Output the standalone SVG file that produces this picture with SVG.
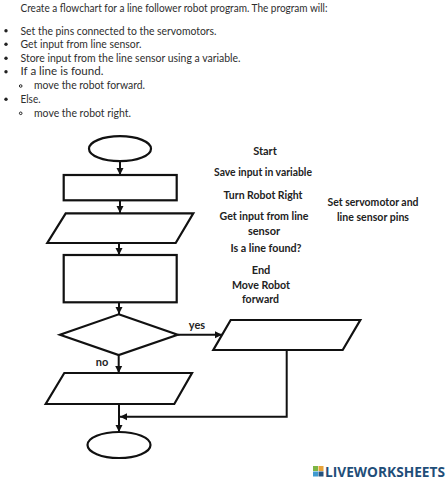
<svg xmlns="http://www.w3.org/2000/svg" width="448" height="480" viewBox="0 0 448 480">
<style>
text{font-family:"Lato","Liberation Sans",sans-serif}
.b{font-size:11.5px;fill:#2e2e2e}
.l{font-size:11px;font-weight:700;fill:#222;text-anchor:middle}
.s{fill:#fff;stroke:#111;stroke-width:2.2}
.c{fill:none;stroke:#111;stroke-width:2}
</style>
<defs>
<marker id="a" markerUnits="userSpaceOnUse" markerWidth="8" markerHeight="8" refX="7" refY="4" orient="auto"><path d="M0 0.5L7 4L0 7.5Z" fill="#111"/></marker>
</defs>
<rect width="448" height="480" fill="#fff"/>
<g id="instructions">
<text class="b" x="20.500" y="12" textLength="307" lengthAdjust="spacingAndGlyphs">Create a flowchart for a line follower robot program. The program will:</text>
<g fill="#222"><circle cx="6" cy="30.700" r="1.700"/><circle cx="6" cy="44.300" r="1.700"/><circle cx="6" cy="58.300" r="1.700"/><circle cx="6" cy="71.700" r="1.700"/><circle cx="6" cy="99.300" r="1.700"/></g>
<g fill="none" stroke="#222"><circle cx="20.700" cy="86" r="1.300"/><circle cx="20.700" cy="113.300" r="1.300"/></g>
<text class="b" x="20.500" y="34.500" textLength="196" lengthAdjust="spacingAndGlyphs">Set the pins connected to the servomotors.</text>
<text class="b" x="20.500" y="48" textLength="121" lengthAdjust="spacingAndGlyphs">Get input from line sensor.</text>
<text class="b" x="20.500" y="61.500" textLength="220" lengthAdjust="spacingAndGlyphs">Store input from the line sensor using a variable.</text>
<text class="b" x="20.500" y="75" textLength="83" lengthAdjust="spacingAndGlyphs">If a line is found.</text>
<text class="b" x="34" y="89" textLength="111" lengthAdjust="spacingAndGlyphs">move the robot forward.</text>
<text class="b" x="20.500" y="103" textLength="20" lengthAdjust="spacingAndGlyphs">Else.</text>
<text class="b" x="34" y="116.500" textLength="97" lengthAdjust="spacingAndGlyphs">move the robot right.</text>
</g>
<g id="connectors">
<path class="c" marker-end="url(#a)" d="M120 161V175"/>
<path class="c" marker-end="url(#a)" d="M120 200V213"/>
<path class="c" marker-end="url(#a)" d="M119 243V255"/>
<path class="c" marker-end="url(#a)" d="M119 302V314"/>
<path class="c" marker-end="url(#a)" d="M118.700 355V373"/>
<path class="c" marker-end="url(#a)" d="M177.700 334.700H222"/>
<path class="c" marker-end="url(#a)" d="M119 404V432"/>
<path class="c" marker-end="url(#a)" d="M286.700 350V416.700H120"/>
</g>
<g id="start-shape"><ellipse class="s" cx="120" cy="148.700" rx="31" ry="12.500"/></g>
<g id="process-1"><rect class="s" x="63.700" y="175" width="113" height="25.300"/></g>
<g id="input-1"><polygon class="s" points="65.700,213.300 193.300,213.300 175.700,243 47.300,243"/></g>
<g id="process-2"><rect class="s" x="63.700" y="255" width="113" height="47.300"/></g>
<g id="decision"><polygon class="s" points="118.700,314.300 177.700,334.700 118.700,355 60,334.700"/></g>
<g id="output-no"><polygon class="s" points="64.300,373 192,373 174.300,404 45.700,404"/></g>
<g id="output-yes"><polygon class="s" points="230.700,320 360.300,320 342.700,350 213.300,350"/></g>
<g id="end-shape"><ellipse class="s" cx="119" cy="445" rx="31.500" ry="13"/></g>
<g id="labels">
<text class="l" x="265" y="155">Start</text>
<text class="l" x="263" y="175.500" textLength="98" lengthAdjust="spacingAndGlyphs">Save input in variable</text>
<text class="l" x="263" y="198.500" textLength="79" lengthAdjust="spacingAndGlyphs">Turn Robot Right</text>
<text class="l" x="264" y="220" textLength="89" lengthAdjust="spacingAndGlyphs">Get input from line</text>
<text class="l" x="264" y="234.500">sensor</text>
<text class="l" x="266" y="252" textLength="71" lengthAdjust="spacingAndGlyphs">Is a line found?</text>
<text class="l" x="261" y="274">End</text>
<text class="l" x="261" y="288.500" textLength="58" lengthAdjust="spacingAndGlyphs">Move Robot</text>
<text class="l" x="260.500" y="302.500" textLength="37" lengthAdjust="spacingAndGlyphs">forward</text>
<text class="l" x="373" y="206" textLength="91" lengthAdjust="spacingAndGlyphs">Set servomotor and</text>
<text class="l" x="373" y="220.500" textLength="72" lengthAdjust="spacingAndGlyphs">line sensor pins</text>
<text class="l" x="197" y="328.500">yes</text>
<text class="l" x="102" y="366">no</text>
</g>
<g id="logo">
<rect x="313" y="466" width="5" height="5" fill="#7db544"/><rect x="318.500" y="466" width="5" height="5" fill="#e8a33a"/>
<rect x="313" y="471.500" width="5" height="5" fill="#3f9ad0"/><rect x="318.500" y="471.500" width="5" height="5" fill="#24527e"/>
<text transform="translate(325 476.500) scale(1 1.150)" x="0" y="0" font-size="12.500" font-weight="700" fill="#1f4e79" textLength="120" lengthAdjust="spacingAndGlyphs" style="font-family:'Open Sans','Liberation Sans',sans-serif">LIVEWORKSHEETS</text>
</g>
</svg>
